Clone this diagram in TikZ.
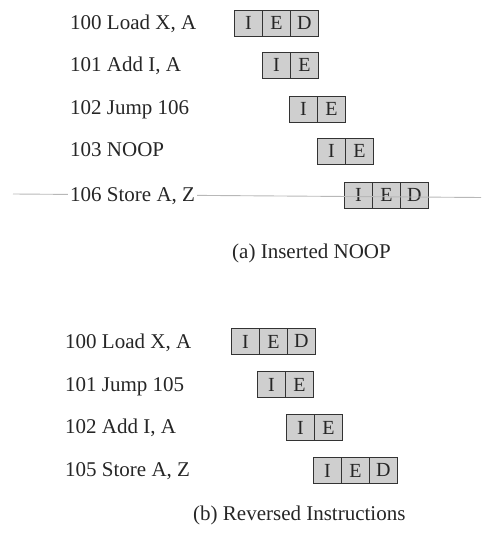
\documentclass[tikz,border=0pt]{standalone}
\usepackage{fontspec}
\setmainfont{Liberation Serif}
\begin{document}
\begin{tikzpicture}[x=1pt,y=-1pt,
  every node/.style={font=\fontsize{21}{25}\selectfont, text=black!85},
  lbl/.style={anchor=base west, inner sep=0pt},
  cell/.style={draw=black!80, line width=1.3pt, fill=black!19, minimum width=27.9pt,
    minimum height=25.7pt, inner sep=0pt, outer sep=0pt, anchor=north west,
    font=\fontsize{20}{24}\selectfont}]
\useasboundingbox (0,0) rectangle (481,545);
% ---------- (a) ----------
\node[lbl] (ta1) at (70,29.5) {100 Load X, A};
\node[lbl] (ta2) at (70,71.5) {101 Add I, A};
\node[lbl] (ta3) at (70,115) {102 Jump 106};
\node[lbl] (ta4) at (70,157) {103 NOOP};
\node[cell] (a1i) at (234.6,10.6) {I};
\node[cell] (a1e) at (a1i.north east) {E};
\node[cell] (a1d) at (a1e.north east) {D};
\node[cell] (a2i) at (262.6,52.6) {I};
\node[cell] (a2e) at (a2i.north east) {E};
\node[cell] (a3i) at (289.6,96.6) {I};
\node[cell] (a3e) at (a3i.north east) {E};
\node[cell] (a4i) at (317.6,138.6) {I};
\node[cell] (a4e) at (a4i.north east) {E};
\node[cell] (a5i) at (344.6,182.6) {I};
\node[cell] (a5e) at (a5i.north east) {E};
\node[cell] (a5d) at (a5e.north east) {D};
% faint scan line (behind the last label)
\draw[black!28, line width=0.9pt] (13,194) -- (481,197.5);
\node[lbl, fill=white, inner xsep=2pt, inner ysep=3pt] (ta5) at (68,201) {106 Store A, Z};
\node[lbl] (capa) at (232,258) {(a) Inserted NOOP};
% ---------- (b) ----------
\node[lbl] (tb1) at (65,348) {100 Load X, A};
\node[lbl] (tb2) at (65,391) {101 Jump 105};
\node[lbl] (tb3) at (65,433.5) {102 Add I, A};
\node[lbl] (tb4) at (65,476.5) {105 Store A, Z};
\node[cell] (b1i) at (231.6,328.6) {I};
\node[cell] (b1e) at (b1i.north east) {E};
\node[cell] (b1d) at (b1e.north east) {D};
\node[cell] (b2i) at (257.6,371.6) {I};
\node[cell] (b2e) at (b2i.north east) {E};
\node[cell] (b3i) at (286.6,414.6) {I};
\node[cell] (b3e) at (b3i.north east) {E};
\node[cell] (b4i) at (313.6,457.6) {I};
\node[cell] (b4e) at (b4i.north east) {E};
\node[cell] (b4d) at (b4e.north east) {D};
\node[lbl] (capb) at (193,520) {(b) Reversed Instructions};
\end{tikzpicture}
\end{document}
